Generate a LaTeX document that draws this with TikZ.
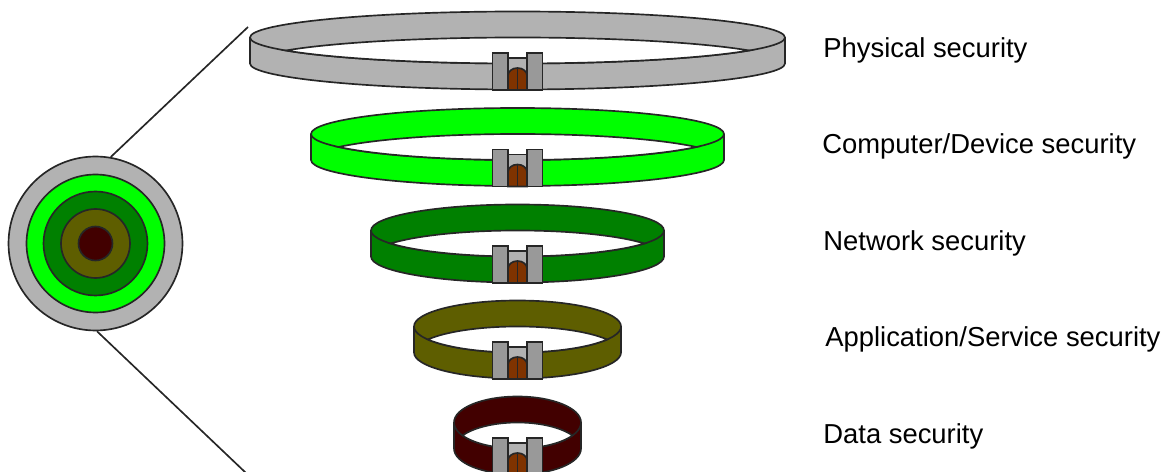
\documentclass[tikz,border=0pt]{standalone}
\usepackage{fontspec}
\setmainfont{Liberation Sans}
\usepackage{tikz}
\usetikzlibrary{shapes,positioning}

\definecolor{wall_color}{RGB}{178,178,178}
\definecolor{tower_color}{RGB}{153,153,153}
\definecolor{door_color}{RGB}{127,51,0}
\definecolor{computer_color}{RGB}{0,255,0}
\definecolor{network_color}{RGB}{0,128,0}
\definecolor{service_color}{RGB}{94,94,0}
\definecolor{data_color}{RGB}{66,0,0}

\begin{document}
\begin{tikzpicture} [
x=0.02cm, y=0.02cm,
edge/.style     = { draw=black!85, line width=0.95pt },
disc/.style     = { circle, edge, inner sep=0pt },
caption/.style  = { anchor=base west, inner sep=0pt, font=\fontsize{15.6pt}{18pt}\selectfont },
pics/ringwall/.style 2 args = { code = {
    % outer hull, far rim, then the opening between the two rims
    \path [edge, fill=#2] (-#1,13) arc [start angle=180, end angle=0, x radius=#1, y radius=26]
        -- (#1,-13) arc [start angle=0, end angle=-180, x radius=#1, y radius=26] -- cycle;
    \path [edge] (-#1,13) arc [start angle=180, end angle=360, x radius=#1, y radius=26];
    \path [edge, fill=white] (-0.866*#1,0) arc [start angle=150, end angle=30, x radius=#1, y radius=26]
        arc [start angle=-30, end angle=-150, x radius=#1, y radius=26] -- cycle;
}},
pics/gate/.style = { code = {
    \path [edge, fill=wall_color] (-10,-39.5) rectangle (10,-7.5);
    \path [edge, fill=door_color] (-9.5,-39.5) -- (-9.5,-25) arc [start angle=180, end angle=0, x radius=9.5, y radius=7.5] -- (9.5,-39.5) -- cycle;
    \path [edge] (0,-17.5) -- (0,-39.5);
    \path [edge, fill=tower_color] (-25,-39.5) rectangle (-9.5,-2.5);
    \path [edge, fill=tower_color] (9.5,-39.5) rectangle (25,-2.5);
}},
]
\useasboundingbox (0,-472) rectangle (1172,0);
\clip (0,-472) rectangle (1172,0);

% Rings from the top down
\pic (physical) at (517.5,-50.5)  {ringwall={267.5}{wall_color}};
\pic (physicalgate) at (517.5,-50.5)  {gate};
\pic (computer) at (517.5,-147)   {ringwall={206.5}{computer_color}};
\pic (computergate) at (517.5,-147)   {gate};
\pic (network) at (517.5,-243.5)  {ringwall={146.5}{network_color}};
\pic (networkgate) at (517.5,-243.5)  {gate};
\pic (service) at (517.5,-339.5)  {ringwall={103.5}{service_color}};
\pic (servicegate) at (517.5,-339.5)  {gate};
\pic (data) at (517.5,-435.5)     {ringwall={63.5}{data_color}};
\pic (datagate) at (517.5,-435.5)     {gate};

% Concentric view
\node [disc, fill=wall_color, minimum size=3.48cm] (outer) at (95.5,-243.5) {};
\node [disc, fill=computer_color, minimum size=2.76cm] (disc2) at (outer.center) {};
\node [disc, fill=network_color, minimum size=2.08cm] (disc3) at (outer.center) {};
\node [disc, fill=service_color, minimum size=1.38cm] (disc4) at (outer.center) {};
\node [disc, fill=data_color, minimum size=0.68cm] (disc5) at (outer.center) {};

\coordinate (top) at (248,-27);
\coordinate (bottom) at (246,-473);
\path [edge] (outer.80) -- (top);
\path [edge] (outer.-89) -- (bottom);

\node [caption] (label1) at (823,-58)  {Physical security};
\node [caption] (label2) at (822,-154) {Computer/Device security};
\node [caption] (label3) at (823,-251) {Network security};
\node [caption] (label4) at (825,-347) {Application/Service security};
\node [caption] (label5) at (823,-443) {Data security};
\end{tikzpicture}
\end{document}
